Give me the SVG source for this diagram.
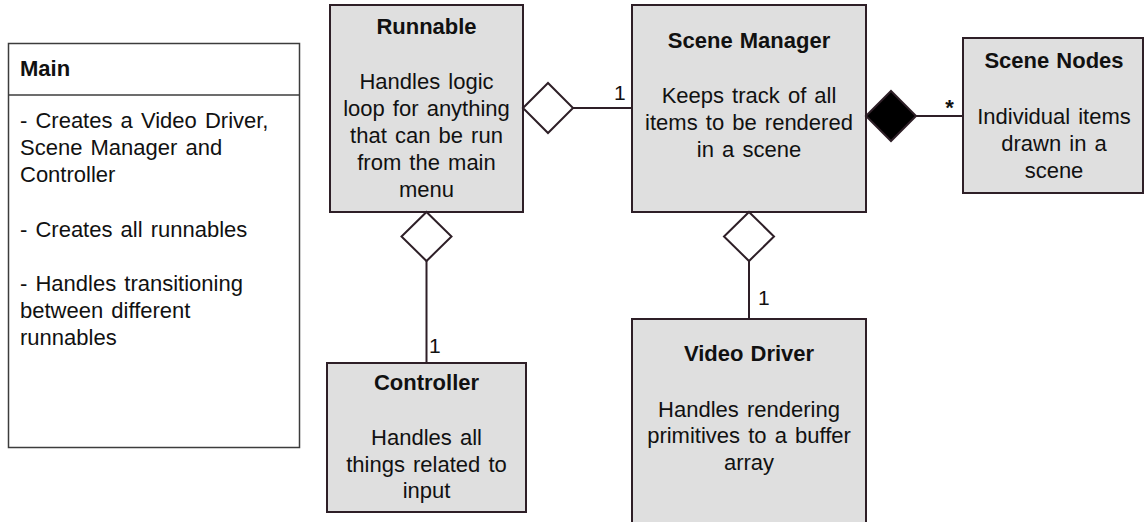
<svg xmlns="http://www.w3.org/2000/svg" width="1144" height="522" viewBox="0 0 1144 522">
  <style>
    text { font-family: "Liberation Sans", Arial, sans-serif; font-size: 22px; fill: #111; word-spacing: 2px; }
    .title { font-weight: bold; text-anchor: middle; word-spacing: 1px; }
    .body { text-anchor: middle; }
    .left { text-anchor: start; }
    .box { fill: #dfdfdf; stroke: #2e1f27; stroke-width: 2; }
    .note { fill: #ffffff; stroke: #3c3c3c; stroke-width: 1.5; }
    .edge { fill: none; stroke: #2e1f27; stroke-width: 2; }
    .hollow { fill: #ffffff; stroke: #2e1f27; stroke-width: 2; }
    .solid { fill: #000000; stroke: #2e1f27; stroke-width: 2; }
    .mult { font-size: 21px; }
  </style>

  <rect width="1144" height="522" fill="#ffffff"/>

  <!-- Main: notes panel -->
  <g id="main">
    <rect class="note" x="8.5" y="43.5" width="291" height="404"/>
    <line x1="8.5" y1="95" x2="299.5" y2="95" stroke="#3c3c3c" stroke-width="1.5"/>
    <text class="left" x="20" y="76" font-weight="bold">Main</text>
    <text class="left" x="20" y="128">- Creates a Video Driver,</text>
    <text class="left" x="20" y="155">Scene Manager and</text>
    <text class="left" x="20" y="182">Controller</text>
    <text class="left" x="20" y="237">- Creates all runnables</text>
    <text class="left" x="20" y="291">- Handles transitioning</text>
    <text class="left" x="20" y="318">between different</text>
    <text class="left" x="20" y="345">runnables</text>
  </g>

  <!-- Runnable -->
  <g id="runnable">
    <rect class="box" x="330" y="5" width="193" height="207"/>
    <text class="title" x="426.5" y="34">Runnable</text>
    <text class="body" x="426.5" y="89">Handles logic</text>
    <text class="body" x="426.5" y="116">loop for anything</text>
    <text class="body" x="426.5" y="143">that can be run</text>
    <text class="body" x="426.5" y="170">from the main</text>
    <text class="body" x="426.5" y="197">menu</text>
  </g>

  <!-- Scene Manager -->
  <g id="scene-manager">
    <rect class="box" x="632" y="5" width="234" height="207"/>
    <text class="title" x="749" y="48">Scene Manager</text>
    <text class="body" x="749" y="103">Keeps track of all</text>
    <text class="body" x="749" y="130">items to be rendered</text>
    <text class="body" x="749" y="157">in a scene</text>
  </g>

  <!-- Scene Nodes -->
  <g id="scene-nodes">
    <rect class="box" x="963" y="38" width="180" height="155"/>
    <text class="title" x="1054" y="68">Scene Nodes</text>
    <text class="body" x="1054" y="124">Individual items</text>
    <text class="body" x="1054" y="151">drawn in a</text>
    <text class="body" x="1054" y="178">scene</text>
  </g>

  <!-- Controller -->
  <g id="controller">
    <rect class="box" x="327" y="363" width="199" height="149"/>
    <text class="title" x="426.5" y="390">Controller</text>
    <text class="body" x="426.5" y="445">Handles all</text>
    <text class="body" x="426.5" y="472">things related to</text>
    <text class="body" x="426.5" y="498">input</text>
  </g>

  <!-- Video Driver -->
  <g id="video-driver">
    <rect class="box" x="632" y="319" width="234" height="215"/>
    <text class="title" x="749" y="361">Video Driver</text>
    <text class="body" x="749" y="417">Handles rendering</text>
    <text class="body" x="749" y="443">primitives to a buffer</text>
    <text class="body" x="749" y="470">array</text>
  </g>

  <!-- Associations -->
  <g id="connectors">
    <!-- Runnable aggregates Scene Manager -->
    <line class="edge" x1="573" y1="108" x2="632" y2="108"/>
    <polygon class="hollow" points="523,108 548,83 573,108 548,133"/>
    <text class="mult left" x="614" y="100">1</text>

    <!-- Scene Manager composes Scene Nodes -->
    <line class="edge" x1="916" y1="116" x2="963" y2="116"/>
    <polygon class="solid" points="866,116 891,91 916,116 891,141"/>
    <text x="949.5" y="115" text-anchor="middle" font-size="24" font-weight="bold">*</text>

    <!-- Runnable aggregates Controller -->
    <line class="edge" x1="426.5" y1="261" x2="426.5" y2="363"/>
    <polygon class="hollow" points="426.5,212 451.5,236.5 426.5,261 401.5,236.5"/>
    <text class="mult left" x="429" y="353">1</text>

    <!-- Scene Manager aggregates Video Driver -->
    <line class="edge" x1="749" y1="261" x2="749" y2="319"/>
    <polygon class="hollow" points="749,212 774,236.5 749,261 724,236.5"/>
    <text class="mult left" x="758" y="305">1</text>
  </g>
</svg>
